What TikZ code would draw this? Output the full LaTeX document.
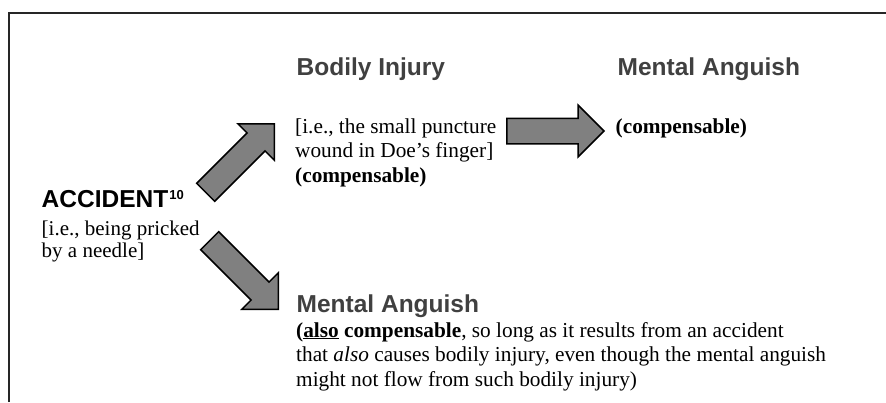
\documentclass[tikz,border=0pt]{standalone}
\usepackage{fontspec}
\setmainfont{Liberation Serif}
\newfontfamily\headfont{Liberation Sans}
\usetikzlibrary{positioning,shapes.arrows}

\begin{document}
\begin{tikzpicture}[x=1pt,y=-1pt,
  head/.style={font=\headfont\bfseries\fontsize{24.5}{28}\selectfont,text=black!75,inner sep=0pt,anchor=base west},
  body/.style={font=\fontsize{21.3}{24.5}\selectfont,align=left,inner sep=0pt,anchor=base west},
  fatarrow/.style={single arrow,draw=black,line width=1.5pt,fill=black!50,minimum height=97pt,
    minimum width=50pt,inner sep=12pt,single arrow head extend=13pt,anchor=tip}]
\useasboundingbox (0,0) rectangle (886,402);
\draw[line width=2pt,black!85] (9,402) -- (9,12.5) -- (886,12.5);
% cause (base = last line)
\node[head,text=black] (accident) at (41.5,207.5) {ACCIDENT\kern1pt\raisebox{8pt}{\fontsize{13}{13}\selectfont 10}};
\node[body,font=\fontsize{21}{22.7}\selectfont] (accidentdesc) at (41.5,257.7) {[i.e., being pricked\\by a needle]};
% bodily injury branch
\node[head] (injury) at (296.5,75) {Bodily Injury};
\node[body] (injurydesc) at (295,182.3) {[i.e., the small puncture\\wound in Doe's finger]\\\textbf{(compensable)}};
\node[head] (anguishtop) at (617.5,75.5) {Mental Anguish};
\node[body] (anguishtopdesc) at (615.5,133) {\textbf{(compensable)}};
% mental anguish branch
\node[head] (anguishlow) at (296.5,312) {Mental Anguish};
\node[body] (anguishlowdesc) at (296,386) {\textbf{(\underline{also} compensable}, so long as it results from an accident\\that \textit{also} causes bodily injury, even though the mental anguish\\might not flow from such bodily injury)};
% arrows
\node[fatarrow,rotate=45] (toinjury) at (275,123) {};
\node[fatarrow] (toanguish) at (605,131) {};
\node[fatarrow,rotate=-45] (toanguishlow) at (279,310) {};
\end{tikzpicture}
\end{document}
